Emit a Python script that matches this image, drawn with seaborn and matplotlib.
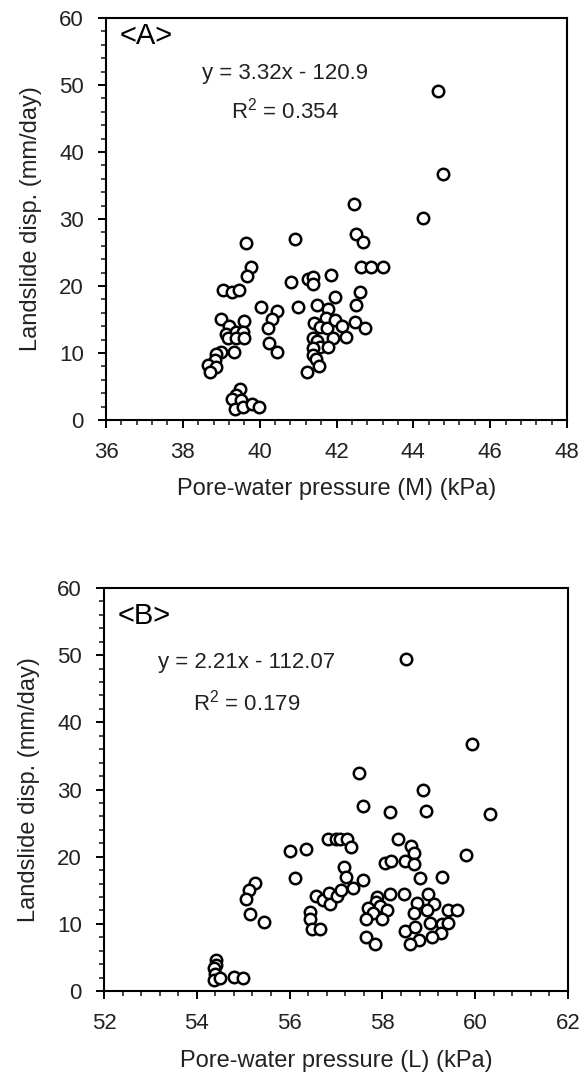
import numpy as np
import pandas as pd
import matplotlib
matplotlib.use("Agg")
import matplotlib.pyplot as plt
from matplotlib.ticker import MultipleLocator
import seaborn as sns

# ---------------- data ----------------
pwp_m = [39.65, 40.91, 39.78, 39.67, 39.05, 39.29, 39.46, 40.81, 41.25, 41.40,
         41.39, 41.85, 41.97, 40.03, 40.45, 40.33, 40.22, 40.24, 40.45, 40.99,
         39.00, 39.19, 39.59, 39.13, 39.39, 39.57, 39.18, 39.39, 39.59, 39.32,
         39.00, 38.87, 38.83, 38.66, 38.87, 38.70, 39.48, 39.39, 39.28, 39.52,
         39.37, 39.57, 39.81, 39.98, 41.50, 41.78, 41.73, 41.41, 41.56, 41.76,
         41.95, 41.91, 41.39, 41.50, 41.58, 41.78, 41.39, 41.39, 41.47, 41.54,
         41.24, 42.45, 44.24, 42.51, 42.70, 42.63, 42.90, 43.22, 42.62, 42.51,
         42.47, 42.15, 42.75, 42.25, 44.63, 44.78]
disp_m = [26.4, 27.0, 22.9, 21.5, 19.4, 19.1, 19.4, 20.6, 21.0, 21.3,
          20.3, 21.6, 18.4, 16.9, 16.3, 15.0, 13.8, 11.5, 10.2, 16.9,
          15.1, 14.0, 14.8, 12.9, 13.2, 13.2, 12.2, 12.2, 12.3, 10.2,
          10.2, 9.9, 9.0, 8.2, 7.9, 7.1, 4.7, 3.7, 3.1, 3.0,
          1.6, 2.0, 2.4, 2.0, 17.2, 16.5, 15.2, 14.5, 13.9, 13.7,
          14.9, 12.2, 12.2, 11.8, 10.9, 10.9, 10.7, 9.7, 9.1, 8.1,
          7.1, 32.2, 30.1, 27.7, 26.6, 22.9, 22.9, 22.9, 19.1, 17.2,
          14.7, 14.0, 13.7, 12.4, 49.1, 36.7]

pwp_l = [56.01, 56.36, 56.82, 57.00, 56.12, 55.26, 55.12, 55.07, 55.14, 55.44,
         56.57, 56.72, 56.85, 56.88, 57.02, 56.43, 56.44, 56.49, 56.65,
         54.42, 54.41, 54.37, 54.39, 54.37, 54.51, 54.80, 55.00,
         58.51, 59.93, 57.49, 58.87, 57.58, 58.17, 58.94, 60.32,
         57.08, 57.23, 57.33, 58.34, 58.62, 58.68, 59.81, 58.06, 58.19, 58.49,
         58.68, 57.18, 57.22, 57.59, 58.81, 59.28, 57.36, 57.11, 57.88, 58.17,
         58.47, 58.98, 57.87, 58.74, 59.11, 59.42, 59.61, 58.96, 57.69, 57.94,
         58.10, 57.80, 58.68, 57.65, 58.00, 59.03, 59.28, 59.42, 58.49, 58.71,
         59.26, 59.06, 58.78, 58.60, 57.65, 57.83]
disp_l = [20.9, 21.2, 22.7, 22.7, 16.8, 16.1, 15.0, 13.7, 11.4, 10.2,
          14.1, 13.6, 14.6, 12.9, 14.2, 11.8, 10.7, 9.2, 9.2,
          4.6, 3.9, 3.4, 2.6, 1.6, 1.9, 2.1, 1.9,
          49.4, 36.8, 32.4, 30.0, 27.5, 26.6, 26.8, 26.3,
          22.7, 22.7, 21.4, 22.7, 21.6, 20.5, 20.2, 19.0, 19.4, 19.4,
          18.9, 18.4, 17.0, 16.6, 16.8, 17.0, 15.3, 15.0, 14.0, 14.5,
          14.5, 14.5, 13.3, 13.1, 13.0, 12.1, 12.1, 12.1, 12.3, 12.6,
          12.1, 11.6, 11.6, 10.7, 10.7, 10.1, 10.0, 10.1, 8.9, 9.6,
          8.6, 8.0, 7.6, 7.0, 8.0, 7.0]

panel_labels = ["<A>", "<B>"]
equations = ["y = 3.32x - 120.9", "y = 2.21x - 112.07"]
r2_texts = ["R$^2$ = 0.354", "R$^2$ = 0.179"]
xlabels = ["Pore-water pressure (M) (kPa)", "Pore-water pressure (L) (kPa)"]
ylabel = "Landslide disp. (mm/day)"
xlims = [(36, 48), (52, 62)]
ylim = (0, 60)

# ---------------- style ----------------
sns.set_style("ticks")
plt.rcParams["font.family"] = ["Liberation Sans", "DejaVu Sans"]
plt.rcParams["axes.linewidth"] = 1.5
plt.rcParams["mathtext.fontset"] = "custom"
plt.rcParams["mathtext.rm"] = "Liberation Sans"

fig = plt.figure(figsize=(5.8, 10.75), dpi=100)
axA = fig.add_axes([106/580, 1-420/1075, 461/580, 402/1075])
axB = fig.add_axes([104/580, 1-991/1075, 464/580, 403/1075])

dfA = pd.DataFrame({"x": pwp_m, "y": disp_m})
dfB = pd.DataFrame({"x": pwp_l, "y": disp_l})

eq_pos = [(0.388, 0.863, 0.771), (0.308, 0.814, 0.715)]

for i, (ax, df) in enumerate([(axA, dfA), (axB, dfB)]):
    sns.scatterplot(data=df, x="x", y="y", ax=ax, marker="o", s=68,
                    facecolor="white", edgecolor="black", linewidth=1.8,
                    zorder=3)
    ax.set_xlim(*xlims[i])
    ax.set_ylim(*ylim)
    ax.xaxis.set_major_locator(MultipleLocator(2))
    ax.xaxis.set_minor_locator(MultipleLocator(0.4))
    ax.yaxis.set_major_locator(MultipleLocator(10))
    ax.yaxis.set_minor_locator(MultipleLocator(2))
    ax.tick_params(axis="both", which="major", direction="out", length=6,
                   width=1.4, labelsize=16, colors="black", pad=10)
    ax.tick_params(axis="both", which="minor", direction="out", length=3.5,
                   width=1.2)
    ax.tick_params(labelcolor="#222222")
    for sp in ax.spines.values():
        sp.set_visible(True)
        sp.set_linewidth(1.5)
        sp.set_color("black")
    ax.set_xlabel(xlabels[i], fontsize=17, color="#222222", labelpad=11)
    ax.set_ylabel(ylabel, fontsize=17, color="#222222", labelpad=12)
    ax.text(0.03, 0.955 if i == 0 else 0.93, panel_labels[i],
            transform=ax.transAxes, fontsize=21, ha="left", va="center",
            color="black")
    cx, y1, y2 = eq_pos[i]
    ax.text(cx, y1, equations[i], transform=ax.transAxes, fontsize=16,
            ha="center", va="center", color="#222222")
    ax.text(cx, y2, r2_texts[i], transform=ax.transAxes, fontsize=16,
            ha="center", va="center", color="#222222")

fig.savefig("out.png", dpi=100)
